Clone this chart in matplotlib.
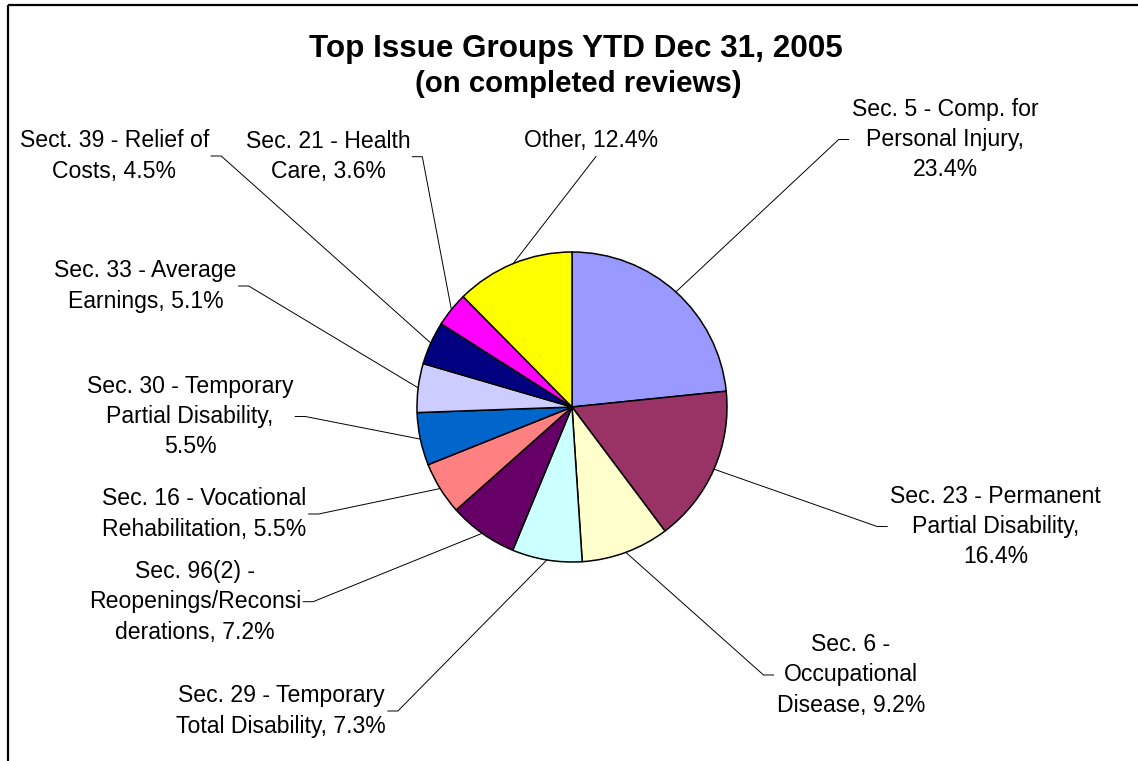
# Top Issue Groups YTD Dec 31, 2005 - Kreisdiagramm mit Fuehrungslinien
import numpy as np
import matplotlib.pyplot as plt

plt.rcParams['font.family'] = ['Liberation Sans', 'DejaVu Sans']

# Daten
names = ['Sec. 5 - Comp. for\nPersonal Injury,\n{}%',
         'Sec. 23 - Permanent\nPartial Disability,\n{}%',
         'Sec. 6 -\nOccupational\nDisease, {}%',
         'Sec. 29 - Temporary\nTotal Disability, {}%',
         'Sec. 96(2) -\nReopenings/Reconsi\nderations, {}%',
         'Sec. 16 - Vocational\nRehabilitation, {}%',
         'Sec. 30 - Temporary\nPartial Disability,\n{}%',
         'Sec. 33 - Average\nEarnings, {}%',
         'Sect. 39 - Relief of\nCosts, {}%',
         'Sec. 21 - Health\nCare, {}%',
         'Other, {}%']
shares = [23.4, 16.4, 9.2, 7.3, 7.2, 5.5, 5.5, 5.1, 4.5, 3.6, 12.4]
colors = ['#9999FF', '#993366', '#FFFFCC', '#CCFFFF', '#660066', '#FF8080',
          '#0066CC', '#CCCCFF', '#000080', '#FF00FF', '#FFFF00']

# Layout in Pixeln (y von oben gemessen)
W, H = 1138, 761
center = (572, 407)
radius = 155
label_pos = [(945, 139.5), (995.5, 526.5), (850.7, 675), (281, 711),
             (195, 601.7), (204.5, 514), (190, 416.5), (145.5, 286),
             (114.5, 156), (328, 156.7), (591, 141)]

fig = plt.figure(figsize=(W / 100, H / 100), dpi=100)
ax = fig.add_axes([0, 0, 1, 1])

wedges, _ = ax.pie(shares, colors=colors, startangle=90, counterclock=False,
                   center=(center[0], H - center[1]), radius=radius,
                   wedgeprops=dict(edgecolor='black', linewidth=1.1))
ax.set_xlim(0, W)
ax.set_ylim(0, H)
ax.set_aspect('auto')
ax.axis('off')

# Rahmen (rechts und unten abgeschnitten)
ax.plot([8, W], [H - 5, H - 5], color='black', lw=1.6, solid_capstyle='butt')
ax.plot([8, 8], [H - 5, 0], color='black', lw=1.6, solid_capstyle='butt')

# Titel
ax.text(576, H - 49, 'Top Issue Groups YTD Dec 31, 2005', ha='center',
        va='center', fontsize=22.6, fontweight='bold')
ax.text(578, H - 84.5, '(on completed reviews)', ha='center', va='center',
        fontsize=21.2, fontweight='bold')

fig.canvas.draw()
renderer = fig.canvas.get_renderer()
inv = ax.transData.inverted()

for w, name, val, (lx, ly) in zip(wedges, names, shares, label_pos):
    t = ax.text(lx, H - ly, name.format(val), ha='center', va='center',
                multialignment='center', fontsize=16.6, linespacing=1.41)
    bb = t.get_window_extent(renderer)
    (x0, y0), (x1, y1) = inv.transform([[bb.x0, bb.y0], [bb.x1, bb.y1]])
    ang = np.deg2rad((w.theta1 + w.theta2) / 2)
    px = center[0] + radius * np.cos(ang)
    py = H - center[1] + radius * np.sin(ang)
    if name.startswith('Other'):
        ax.plot([px, lx + 5], [py, y0 - 4], color='black', lw=0.7)
        continue
    if lx > center[0]:
        sx = x0 - 3
        ex = sx - 10
    else:
        sx = x1 + 2
        ex = sx + 10
    ax.plot([px, ex, sx], [py, H - ly, H - ly], color='black', lw=0.7)

fig.savefig('out.png', dpi=100)
